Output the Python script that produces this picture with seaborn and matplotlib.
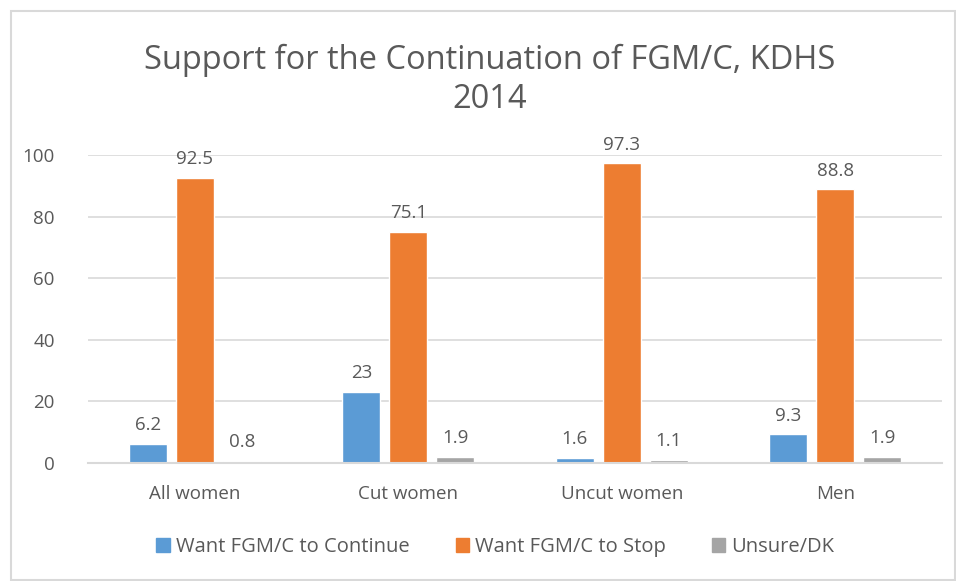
import pandas as pd
import matplotlib.pyplot as plt
import matplotlib.patches as mpatches
import seaborn as sns

groups = ['All women', 'Cut women', 'Uncut women', 'Men']
series = ['Want FGM/C to Continue', 'Want FGM/C to Stop', 'Unsure/DK']
continue_vals = [6.2, 23, 1.6, 9.3]
stop_vals = [92.5, 75.1, 97.3, 88.8]
unsure_vals = [0.8, 1.9, 1.1, 1.9]
label_text = [['6.2', '23', '1.6', '9.3'],
              ['92.5', '75.1', '97.3', '88.8'],
              ['0.8', '1.9', '1.1', '1.9']]
yticks = [0, 20, 40, 60, 80, 100]

colors = ['#5B9BD5', '#ED7D31', '#A5A5A5']
text_col = '#595959'

df = pd.DataFrame({
    'group': groups * 3,
    'series': [series[0]] * 4 + [series[1]] * 4 + [series[2]] * 4,
    'value': continue_vals + stop_vals + unsure_vals,
})

sns.set_style('white')
plt.rcParams['font.family'] = ['Open Sans', 'DejaVu Sans']

fig = plt.figure(figsize=(9.56, 5.81), dpi=100)
ax = fig.add_axes([88 / 956, 1 - 463 / 581, (942 - 88) / 956, (463 - 155) / 581])

sns.barplot(data=df, x='group', y='value', hue='series', order=groups,
            hue_order=series, palette=colors, width=0.66, gap=0.19,
            ax=ax, legend=False, saturation=1)

ax.set_ylim(0, 100)
ax.set_yticks(yticks)
ax.set_xlabel('')
ax.set_ylabel('')
ax.grid(axis='y', color='#D9D9D9', linewidth=1.2)
ax.set_axisbelow(True)
for s in ['top', 'right', 'left']:
    ax.spines[s].set_visible(False)
ax.spines['bottom'].set_color('#D9D9D9')
ax.spines['bottom'].set_linewidth(1.5)
ax.tick_params(axis='both', length=0, labelsize=13.5, colors=text_col)
ax.tick_params(axis='x', pad=16)
ax.tick_params(axis='y', pad=24)

for cont, labs in zip(ax.containers, label_text):
    ax.bar_label(cont, labels=labs, padding=7, fontsize=13.5, color=text_col,
                 clip_on=False)

fig.text(0.512, 1 - 80 / 581, 'Support for the Continuation of FGM/C, KDHS\n2014',
         ha='center', va='center', fontsize=23.5, color=text_col, linespacing=1.25)

handles = [mpatches.Patch(color=c, label=l) for c, l in zip(colors, series)]
fig.legend(handles=handles, loc='center', bbox_to_anchor=(0.518, 1 - 547 / 581),
           ncol=3, frameon=False, fontsize=14.5, labelcolor=text_col,
           handlelength=0.65, handleheight=0.65, handletextpad=0.3,
           columnspacing=2.3)

fig.patches.append(mpatches.Rectangle((11 / 956, 0.001), 944 / 956, 1 - 11 / 581 - 0.001,
                                      transform=fig.transFigure, fill=False,
                                      edgecolor='#D9D9D9', linewidth=1.5))

fig.savefig('out.png', dpi=100)
